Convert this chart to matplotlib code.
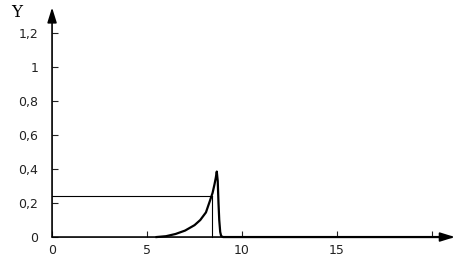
import numpy as np
import matplotlib
matplotlib.use("Agg")
import matplotlib.pyplot as plt

# curve
curve_x = [5.5, 6.0, 6.5, 7.0, 7.5, 7.8, 8.1, 8.3, 8.45, 8.55, 8.62, 8.67, 8.72, 8.76, 8.8, 8.85, 8.9, 9.0, 21.0]
curve_y = [0.0, 0.005, 0.018, 0.038, 0.07, 0.1, 0.145, 0.21, 0.26, 0.31, 0.35, 0.385, 0.33, 0.2, 0.1, 0.03, 0.006, 0.0, 0.0]

# guide lines (level and its x position)
level_y = 0.243
level_x = 8.4

xticks = [0, 5, 10, 15, 20]
xtick_labels = ['0', '5', '10', '15', '']
yticks = [0, 0.2, 0.4, 0.6, 0.8, 1.0, 1.2]
ytick_labels = ['0', '0,2', '0,4', '0,6', '0,8', '1', '1,2']

fig = plt.figure(figsize=(4.67, 2.6), dpi=100)
ax = fig.add_axes([0, 0, 1, 1])
ax.set_xlim(-2.74, 21.84)
ax.set_ylim(-0.135, 1.394)

for s in ['top', 'right', 'left', 'bottom']:
    ax.spines[s].set_visible(False)

# axes with arrow heads
arrow = dict(arrowstyle='-|>,head_length=0.9,head_width=0.28', color='black', lw=1.2,
             shrinkA=0, shrinkB=0)
ax.annotate('', xy=(21.2, 0), xytext=(0, 0), arrowprops=arrow, annotation_clip=False)
ax.annotate('', xy=(0, 1.35), xytext=(0, 0), arrowprops=arrow, annotation_clip=False)

ax.spines['left'].set_position(('data', 0))
ax.spines['bottom'].set_position(('data', 0))
ax.set_xticks(xticks)
ax.set_xticklabels(xtick_labels)
ax.set_yticks(yticks)
ax.set_yticklabels(ytick_labels)
ax.tick_params(direction='in', length=4, width=0.8, labelsize=9, colors='#222222')
ax.tick_params(axis='y', pad=10)
ax.tick_params(axis='x', pad=5)

ax.plot([0, level_x], [level_y, level_y], color='black', lw=0.8)
ax.plot([level_x, level_x], [0, level_y], color='black', lw=0.8)
ax.plot(curve_x, curve_y, color='black', lw=1.6)

ax.text(-1.84, 1.32, 'Y', fontsize=12, family='DejaVu Serif', ha='center', va='center')

fig.savefig('out.png', dpi=100)
